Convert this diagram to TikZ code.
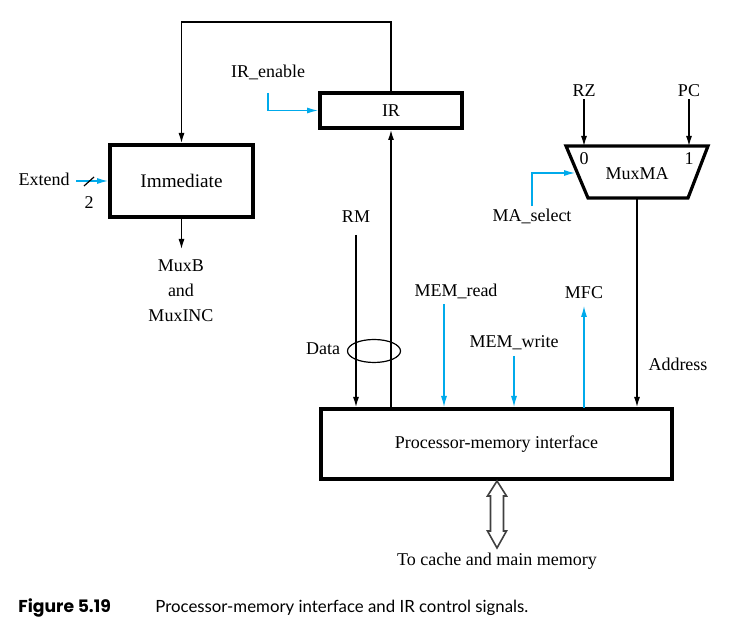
\documentclass[tikz,border=0pt]{standalone}
\usepackage{fontspec}
\setmainfont{Liberation Serif}
\newfontfamily\capfont{Lato}
\newfontfamily\figfont{Poppins}
\usetikzlibrary{arrows.meta,shapes.geometric}
\definecolor{sigblue}{RGB}{0,170,235}

\begin{document}
\begin{tikzpicture}[x=0.5pt,y=-0.5pt,font=\fontsize{9}{11}\selectfont,
  blk/.style={draw,line width=2pt,inner sep=0pt},
  lbl/.style={inner sep=1pt},
  dat/.style={line width=0.6pt,-{Latex[length=5pt,width=3pt]}},
  ctl/.style={dat,draw=sigblue,-{Latex[length=5.5pt,width=3pt,color=sigblue]}}]
\useasboundingbox (0,0) rectangle (740,635);

\node[blk,minimum width=71pt,minimum height=17.5pt] (ir) at (391,110.5) {IR};
\node[blk,minimum width=71.5pt,minimum height=36pt,font=\fontsize{9.6}{11}\selectfont]
  (imm) at (181.5,181) {Immediate};
\node[blk,minimum width=175.5pt,minimum height=35pt] (pmi) at (496.5,444)
  {Processor-memory interface};

\draw[line width=1.6pt] (566,146)--(708,146)--(688,198)--(588,198)--cycle;
\node[lbl] (mux) at (637,174) {MuxMA};
\node[lbl] (mux0) at (584,159) {0};
\node[lbl] (mux1) at (689,159) {1};
\coordinate (muxin0) at (584,146);
\coordinate (muxin1) at (689,146);
\coordinate (muxsel) at (575,173);
\coordinate (muxout) at (637,198);

\node[lbl] (irenable) at (268,72) {IR\_enable};
\node[lbl] (extend) at (44,179) {Extend};
\node[lbl] (two) at (89,203) {2};
\node[lbl] (muxb) at (181,266) {MuxB};
\node[lbl] (and) at (181,290) {and};
\node[lbl] (muxinc) at (181,316) {MuxINC};
\node[lbl] (rm) at (356,217) {RM};
\node[lbl] (data) at (323,349) {Data};
\node[draw,ellipse,line width=0.6pt,minimum width=26.5pt,minimum height=11.5pt,inner sep=0pt]
  (bus) at (374,351) {};
\node[lbl] (memread) at (456,291) {MEM\_read};
\node[lbl] (memwrite) at (514,343) {MEM\_write};
\node[lbl] (mfc) at (584,293) {MFC};
\node[lbl] (addr) at (678,364) {Address};
\node[lbl] (rz) at (584,91) {RZ};
\node[lbl] (pc) at (689,91) {PC};
\node[lbl] (masel) at (532,216) {MA\_select};
\node[lbl] (mem) at (497,561) {To cache and main memory};

\draw[dat] (ir.north)--++(0,-69)-|(imm.north);
\draw[dat] (imm.south)--++(0,30);
\draw[dat] (391,407)--(ir.south);
\draw[dat] (356,235)--(356,407);
\draw[dat] (rz.south)--(muxin0);
\draw[dat] (pc.south)--(muxin1);
\draw[dat] (muxout)--(637,407);

\draw[ctl] (268,93)|-(ir.west);
\draw[ctl] (76,181)--(imm.west);
\draw[line width=0.6pt] (84,186)--(94,177);
\draw[ctl] (masel.north)|-(muxsel);
\draw[ctl] (444,304)--(444,407);
\draw[ctl] (514,356)--(514,407);
\draw[ctl] (584,408)--(584,306);

\draw[line width=0.8pt,draw=black!75] (497,481)--(506.5,496)--(503.5,496)--(503.5,531)
  --(506.5,531)--(497,548)--(487.5,531)--(490.5,531)--(490.5,496)--(487.5,496)--cycle;

\node[anchor=base west,inner sep=0pt,font=\figfont\fontsize{8.6}{11}\selectfont\bfseries]
  (fig) at (18,613) {Figure 5.19};
\node[anchor=base west,inner sep=0pt,font=\capfont\fontsize{8.4}{11}\selectfont]
  (cap) at (155,613) {Processor-memory interface and IR control signals.};
\end{tikzpicture}
\end{document}
